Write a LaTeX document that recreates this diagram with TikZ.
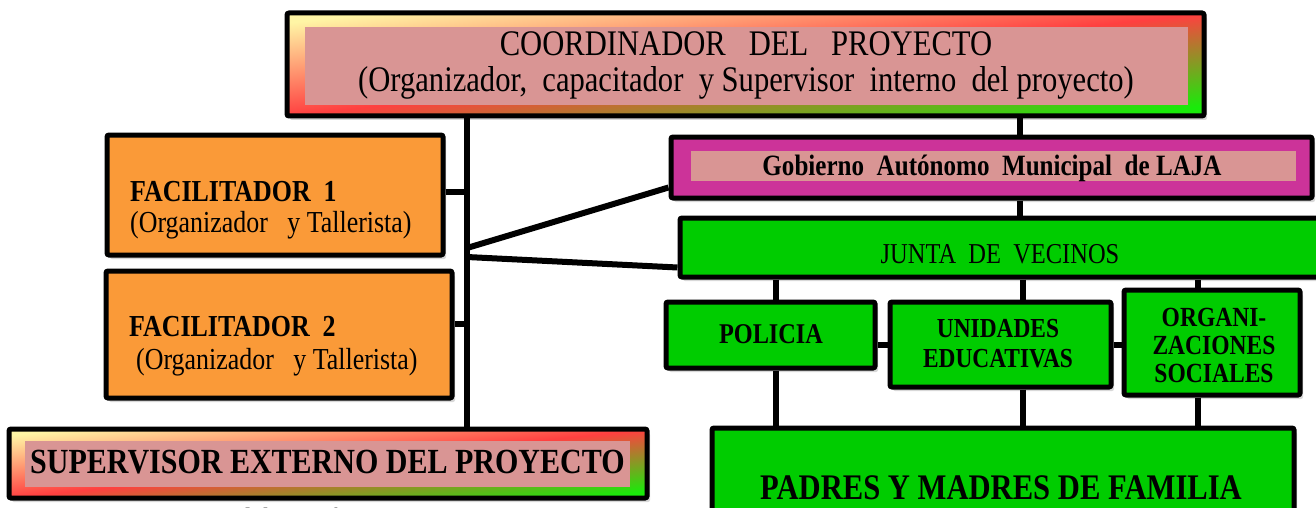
\documentclass[tikz,border=0pt]{standalone}
\usepackage{fontspec}
\setmainfont{Liberation Serif}[FakeStretch=0.85]
\usetikzlibrary{shadows}

\definecolor{rosado}{RGB}{217,149,148}
\definecolor{naranja}{RGB}{250,154,56}
\definecolor{verdeclaro}{RGB}{0,204,0}
\definecolor{fucsia}{RGB}{204,51,153}
\definecolor{gris}{RGB}{150,150,150}
\definecolor{amarillo}{RGB}{255,245,165}
\definecolor{rojo}{RGB}{255,64,64}
\definecolor{verdemarco}{RGB}{25,235,10}

\pgfdeclarehorizontalshading{marco}{100bp}{color(0bp)=(amarillo); color(25bp)=(amarillo); color(50bp)=(rojo); color(75bp)=(verdemarco); color(100bp)=(verdemarco)}

\tikzset{
	caja/.style={draw, line width=5pt, rounded corners=2pt, inner sep=0pt,
		drop shadow={shadow xshift=3pt, shadow yshift=-4pt, fill=black!30}},
	marcocaja/.style={caja, shade, shading=marco, shading angle=#1},
	rosa/.style={fill=rosado, inner sep=0pt},
	linea/.style={line width=6pt},
	txt/.style={inner sep=0pt, align=center}
}

\begin{document}
\begin{tikzpicture}[x=1pt, y=-1pt]
	\useasboundingbox (0,0) rectangle (1316,508);

	% coordinador
	\node[marcocaja=-83.6, minimum width=917pt, minimum height=103pt] (coord) at (745.5,64.5) {};
	\node[rosa, minimum width=883pt, minimum height=78pt] (coordin) at (746.5,66) {};
	\node[txt, font=\fontsize{36}{36}\selectfont] (coordtxt) at (746,65)
		{COORDINADOR~~ DEL~~ PROYECTO\\(Organizador,~ capacitador~ y Supervisor~ interno~ del proyecto)};

	% facilitadores
	\node[caja, fill=naranja, minimum width=336pt, minimum height=120pt] (fac1) at (275,195) {};
	\node[txt, anchor=west, align=left, font=\fontsize{30.5}{31}\selectfont] (fac1txt) at (130,210.5)
		{\textbf{FACILITADOR~ 1}\\(Organizador~~ y Tallerista)};
	\node[caja, fill=naranja, minimum width=346pt, minimum height=127pt] (fac2) at (279,334.5) {};
	\node[txt, anchor=west, align=left, font=\fontsize{30.5}{33}\selectfont] (fac2txt) at (129,346)
		{\textbf{FACILITADOR~ 2}\\\hspace*{7pt}(Organizador~~ y Tallerista)};

	% supervisor externo
	\node[marcocaja=-83.8, minimum width=638pt, minimum height=69pt] (super) at (328,463.5) {};
	\node[rosa, minimum width=605pt, minimum height=46pt] (superin) at (327.5,464) {};
	\node[txt, anchor=west, font=\bfseries\fontsize{35.3}{36}\selectfont] (supertxt) at (30,462)
		{SUPERVISOR EXTERNO DEL PROYECTO};

	% gobierno municipal y junta
	\node[caja, fill=fucsia, minimum width=641pt, minimum height=61pt] (gob) at (991.5,167.5) {};
	\node[rosa, minimum width=605pt, minimum height=30pt] (gobin) at (993.5,166) {};
	\node[txt, font=\bfseries\fontsize{29.5}{30}\selectfont] (gobtxt) at (992,168.5)
		{Gobierno~ Autónomo~ Municipal~ de LAJA};
	\node[caja, fill=verdeclaro, minimum width=640pt, minimum height=59pt] (junta) at (1000,247.5) {};
	\node[txt, font=\fontsize{28.8}{30}\selectfont] (juntatxt) at (1000,254)
		{JUNTA~ DE~ VECINOS};

	% instituciones
	\node[caja, fill=verdeclaro, minimum width=209pt, minimum height=66pt] (pol) at (770.5,335) {};
	\node[txt, font=\bfseries\fontsize{28.6}{30}\selectfont] (poltxt) at (771,334) {POLICIA};
	\node[caja, fill=verdeclaro, minimum width=221pt, minimum height=85pt] (uni) at (1000.5,344.5) {};
	\node[txt, font=\bfseries\fontsize{27.5}{30}\selectfont] (unitxt) at (998,344) {UNIDADES\\EDUCATIVAS};
	\node[caja, fill=verdeclaro, minimum width=176pt, minimum height=105pt] (org) at (1212,342.5) {};
	\node[txt, font=\bfseries\fontsize{27.7}{28}\selectfont] (orgtxt) at (1214,345) {ORGANI-\\ZACIONES\\SOCIALES};

	\node[caja, fill=verdeclaro, minimum width=582pt, minimum height=118pt] (padres) at (1003,487) {};
	\node[txt, font=\bfseries\fontsize{36}{36}\selectfont] (padrestxt) at (1001,488)
		{PADRES Y MADRES DE FAMILIA};

	\node[txt, anchor=north west, text=gris, font=\fontsize{30}{30}\selectfont] (fuente) at (138,507)
		{Fuente:~ Elaboración~ propia};

	% conectores
	\coordinate (tronco) at (467,0);
	\coordinate (ramal) at (1020,0);
	\coordinate (d1) at (467,248);
	\coordinate (d2) at (467,257);
	\coordinate (v1) at (776,0);
	\coordinate (v2) at (1023,0);
	\coordinate (v3) at (1198,0);
	\coordinate (h) at (0,345);

	\draw[linea] (coord.south -| tronco) -- (super.north -| tronco);
	\draw[linea] ([yshift=3pt]fac1.east) -- ([yshift=3pt]fac1.east -| tronco);
	\draw[linea] ([yshift=11pt]fac2.east) -- ([yshift=11pt]fac2.east -| tronco);
	\draw[linea] (d1) -- ([yshift=-20pt]gob.west);
	\draw[linea] (d2) -- ([yshift=-20pt]junta.west);
	\draw[linea] (coord.south -| ramal) -- (gob.north -| ramal);
	\draw[linea] (gob.south -| ramal) -- (junta.north -| ramal);

	\draw[linea] (junta.south -| v1) -- (pol.north -| v1);
	\draw[linea] (junta.south -| v2) -- (uni.north -| v2);
	\draw[linea] (junta.south -| v3) -- (org.north -| v3);
	\draw[linea] (pol.east |- h) -- (uni.west |- h);
	\draw[linea] (uni.east |- h) -- (org.west |- h);
	\draw[linea] (pol.south -| v1) -- (padres.north -| v1);
	\draw[linea] (uni.south -| v2) -- (padres.north -| v2);
	\draw[linea] (org.south -| v3) -- (padres.north -| v3);

\end{tikzpicture}
\end{document}
